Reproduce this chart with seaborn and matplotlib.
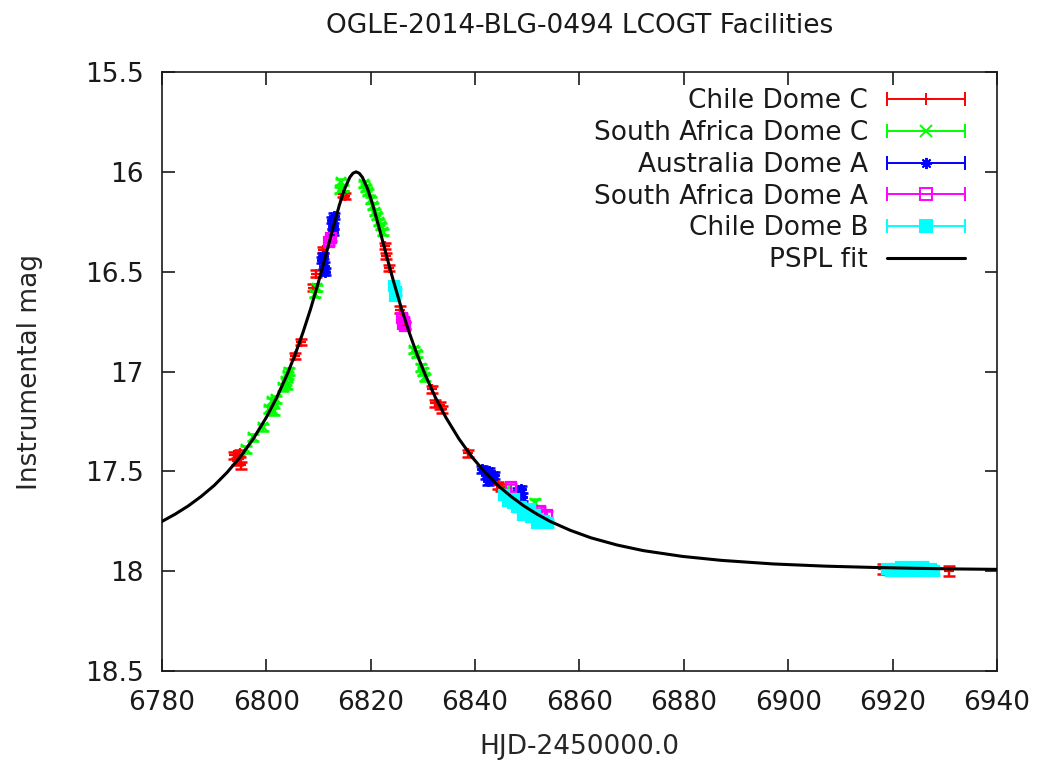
import numpy as np
import matplotlib
matplotlib.use("Agg")
import matplotlib.pyplot as plt
import seaborn as sns
from matplotlib.legend_handler import HandlerBase
from matplotlib.lines import Line2D
from matplotlib.ticker import FuncFormatter

# ---- photometry per telescope: HJD-2450000, instrumental mag, error ----
chile_c_t = [6793.8, 6794.3, 6794.7, 6795.2, 6794.9, 6805.4, 6806.7, 6809.0, 6809.6,
             6810.9, 6814.7, 6815.1, 6822.7, 6822.9, 6823.6, 6825.6, 6826.6,
             6831.7, 6832.4, 6833.2, 6833.6, 6838.7, 6844.4, 6845.0, 6918.2, 6930.8]
chile_c_m = [17.42, 17.45, 17.44, 17.47, 17.41, 16.92, 16.85, 16.58, 16.51,
             16.39, 16.11, 16.12, 16.37, 16.42, 16.48, 16.69, 16.77,
             17.09, 17.16, 17.17, 17.19, 17.41, 17.57, 17.58, 17.99, 18.00]
chile_c_e = [0.016, 0.017, 0.016, 0.018, 0.016, 0.015, 0.015, 0.016, 0.016,
             0.015, 0.014, 0.014, 0.015, 0.015, 0.015, 0.016, 0.016,
             0.016, 0.016, 0.017, 0.017, 0.017, 0.018, 0.018, 0.024, 0.026]

safrica_c_t = [6796.2, 6797.5, 6799.4, 6800.6, 6801.0, 6801.4, 6801.8, 6803.2, 6803.7,
               6804.1, 6804.4, 6804.0, 6809.3, 6809.8, 6814.2, 6814.3, 6814.6,
               6818.7, 6819.1, 6819.5, 6820.0, 6820.4, 6820.8, 6821.2, 6821.6,
               6822.0, 6822.3, 6828.3, 6828.8, 6829.7, 6830.1, 6830.4, 6845.8, 6851.5]
safrica_c_m = [17.39, 17.33, 17.28, 17.19, 17.15, 17.20, 17.14, 17.08, 17.05,
               17.02, 17.00, 17.07, 16.61, 16.58, 16.09, 16.05, 16.08,
               16.06, 16.08, 16.10, 16.14, 16.17, 16.20, 16.22, 16.25,
               16.27, 16.30, 16.89, 16.91, 16.98, 17.00, 17.03, 17.60, 17.66]
safrica_c_e = [0.016, 0.016, 0.016, 0.017, 0.017, 0.017, 0.017, 0.016, 0.016,
               0.016, 0.016, 0.016, 0.015, 0.015, 0.014, 0.014, 0.014,
               0.014, 0.014, 0.014, 0.014, 0.014, 0.014, 0.014, 0.014,
               0.014, 0.014, 0.015, 0.015, 0.016, 0.016, 0.016, 0.018, 0.019]

australia_a_t = [6810.7, 6810.9, 6811.0, 6811.2, 6812.5, 6812.7, 6812.8, 6813.0,
                 6841.3, 6842.0, 6842.4, 6842.6, 6843.2, 6843.6, 6848.2, 6848.8, 6849.0]
australia_a_m = [16.44, 16.42, 16.47, 16.50, 16.24, 16.30, 16.27, 16.22,
                 17.49, 17.52, 17.55, 17.50, 17.54, 17.52, 17.60, 17.59, 17.63]
australia_a_e = [0.016, 0.016, 0.016, 0.016, 0.015, 0.015, 0.015, 0.015,
                 0.018, 0.018, 0.018, 0.018, 0.018, 0.018, 0.019, 0.019, 0.019]

safrica_a_t = [6812.1, 6812.3, 6826.0, 6826.1, 6826.3, 6826.5, 6846.8, 6852.5, 6853.7]
safrica_a_m = [16.35, 16.33, 16.73, 16.76, 16.75, 16.77, 17.58, 17.70, 17.72]
safrica_a_e = [0.015, 0.015, 0.016, 0.016, 0.016, 0.016, 0.018, 0.019, 0.019]

chile_b_t = [6824.5, 6824.6, 6824.8,
             6845.6, 6846.4, 6847.2, 6847.5, 6848.0, 6848.8, 6849.2, 6849.6, 6850.2,
             6850.5, 6850.8, 6851.5, 6851.8, 6852.0, 6852.6, 6853.3, 6854.0,
             6918.9, 6919.6, 6920.3, 6921.0, 6921.7, 6922.4, 6923.1, 6923.8,
             6924.5, 6925.2, 6925.9, 6926.6, 6927.3, 6928.0]
chile_b_m = [16.57, 16.62, 16.60,
             17.62, 17.65, 17.66, 17.64, 17.68, 17.68, 17.72, 17.70, 17.71,
             17.69, 17.73, 17.72, 17.76, 17.74, 17.75, 17.75, 17.76,
             17.99, 18.00, 17.99, 18.00, 17.98, 18.00, 17.99, 17.98,
             18.00, 17.99, 17.98, 18.00, 17.99, 18.00]
chile_b_e = [0.015, 0.015, 0.015,
             0.017, 0.017, 0.017, 0.017, 0.017, 0.017, 0.018, 0.018, 0.018,
             0.018, 0.018, 0.018, 0.018, 0.018, 0.018, 0.018, 0.018,
             0.019, 0.019, 0.019, 0.019, 0.019, 0.019, 0.019, 0.019,
             0.019, 0.019, 0.019, 0.019, 0.019, 0.019]

# ---- point-source point-lens model curve, tabulated ----
fit_t = [6780, 6782.5, 6785, 6787.5, 6790, 6792.5, 6795, 6797.5, 6800, 6802,
         6804, 6805.5, 6807, 6808.5, 6810, 6811, 6812, 6813, 6814, 6815, 6816,
         6816.6, 6817.2, 6817.8, 6818.4, 6819.4, 6820.4, 6821.4, 6822.4, 6823.4,
         6824.4, 6825.9, 6827.4, 6828.9, 6830.4, 6832.4, 6834.4, 6836.9, 6839.4,
         6841.9, 6844.4, 6846.9, 6849.4, 6851.9, 6854.4, 6858.2, 6862.2, 6867.2,
         6872.2, 6879.7, 6887.2, 6897.2, 6907.2, 6917.2, 6925, 6932.5, 6940]
fit_m = [17.751, 17.715, 17.674, 17.626, 17.571, 17.505, 17.428, 17.337, 17.230,
         17.130, 17.014, 16.916, 16.806, 16.685, 16.551, 16.456, 16.358, 16.260,
         16.166, 16.085, 16.027, 16.007, 16.000, 16.007, 16.027, 16.085, 16.166,
         16.260, 16.358, 16.456, 16.551, 16.685, 16.806, 16.916, 17.014, 17.130,
         17.230, 17.337, 17.428, 17.505, 17.571, 17.626, 17.674, 17.715, 17.751,
         17.795, 17.833, 17.869, 17.897, 17.926, 17.946, 17.964, 17.975, 17.982,
         17.986, 17.989, 17.991]

labels = ["Chile Dome C", "South Africa Dome C", "Australia Dome A",
          "South Africa Dome A", "Chile Dome B"]
x_ticks = [6780, 6800, 6820, 6840, 6860, 6880, 6900, 6920, 6940]
y_ticks = [15.5, 16, 16.5, 17, 17.5, 18, 18.5]

FS = 19

sns.set_theme(style="ticks")
plt.rcParams["font.family"] = ["DejaVu Sans"]
plt.rcParams["text.color"] = "#1a1a1a"


class SeriesKey:
    """Legend key for an error-bar series (gnuplot-like sample)."""
    def __init__(self, color, marker, mfc):
        self.color, self.marker, self.mfc = color, marker, mfc


class GnuErrHandler(HandlerBase):
    def create_artists(self, legend, orig_handle, xdescent, ydescent,
                       width, height, fontsize, trans):
        y = (height - ydescent) / 2.0
        x0, x1 = -xdescent, width - xdescent
        c = orig_handle.color
        bar = Line2D([x0, x1], [y, y], color=c, lw=1.4)
        caps = Line2D([x0, x1], [y, y], ls="none", marker="|", ms=10,
                      mew=1.4, color=c)
        pt = Line2D([(x0 + x1) / 2], [y], ls="none", marker=orig_handle.marker,
                    ms=8, mew=1.4, color=c, mfc=orig_handle.mfc, mec=c)
        arts = [bar, caps, pt]
        for a in arts:
            a.set_transform(trans)
        return arts


fig, ax = plt.subplots(figsize=(10.53, 7.63), dpi=100)
fig.subplots_adjust(left=0.1538, right=0.9468, bottom=0.1206, top=0.9056)

series = [
    (chile_c_t, chile_c_m, chile_c_e, "#ff0000", "+", "#ff0000"),
    (safrica_c_t, safrica_c_m, safrica_c_e, "#00ff00", "x", "#00ff00"),
    (australia_a_t, australia_a_m, australia_a_e, "#0000ff", (8, 2, 0), "#0000ff"),
    (safrica_a_t, safrica_a_m, safrica_a_e, "#ff00ff", "s", "none"),
    (chile_b_t, chile_b_m, chile_b_e, "#00ffff", "s", "#00ffff"),
]

keys = []
for t, m, e, color, marker, mfc in series:
    ax.errorbar(t, m, yerr=e, fmt="none", ecolor=color, elinewidth=1.6,
                capsize=4.5, capthick=1.8, zorder=2)
    ax.plot(t, m, ls="none", marker=marker, ms=7.5, mew=1.6, color=color,
            mfc=mfc, mec=color, zorder=3)
    keys.append(SeriesKey(color, marker, mfc))

sns.lineplot(x=fit_t, y=fit_m, sort=False, estimator=None, color="black",
             lw=2.2, ax=ax, zorder=5)
fit_line = ax.get_lines()[-1]
fit_line.set_solid_joinstyle("round")

ax.set_xlim(6780, 6940)
ax.set_ylim(18.5, 15.5)
ax.set_xticks(x_ticks)
ax.set_yticks(y_ticks)
ax.yaxis.set_major_formatter(FuncFormatter(lambda v, p: f"{v:g}"))
ax.tick_params(direction="in", length=9, width=1.2, top=True, right=True,
               labelsize=FS, colors="#1a1a1a", pad=14)
ax.tick_params(axis="y", pad=13)
for s in ax.spines.values():
    s.set_visible(True)
    s.set_linewidth(1.2)
    s.set_color("#1a1a1a")

ax.set_title("OGLE-2014-BLG-0494 LCOGT Facilities", fontsize=FS, pad=28)
ax.set_xlabel("HJD-2450000.0", fontsize=FS, labelpad=13)
ax.set_ylabel("Instrumental mag", fontsize=FS, labelpad=30)

ax.legend(keys + [fit_line], labels + ["PSPL fit"],
          handler_map={SeriesKey: GnuErrHandler()},
          loc="upper right", bbox_to_anchor=(0.9617, 0.973), frameon=False,
          markerfirst=False, fontsize=FS, handlelength=2.95, handletextpad=0.72,
          labelspacing=0.22, borderpad=0, borderaxespad=0)

fig.savefig("out.png", dpi=100)
